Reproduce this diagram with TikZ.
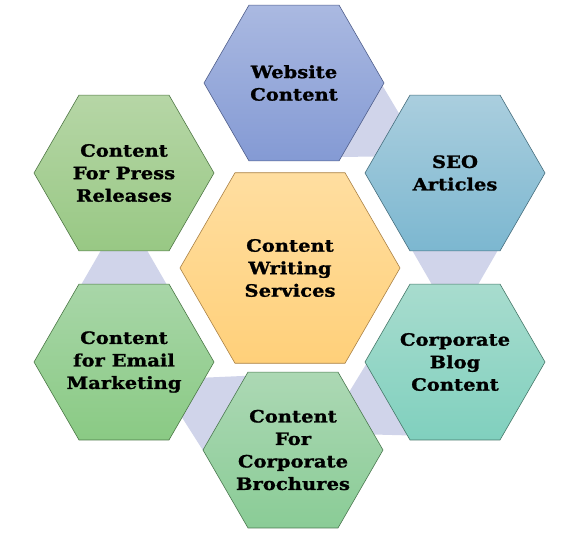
\documentclass[tikz,border=0pt]{standalone}
\usepackage{fontspec}
\setmainfont{DejaVu Serif}[FakeStretch=1.15, BoldFeatures={FakeBold=1.1}]
\usetikzlibrary{shapes.geometric,calc,backgrounds}
\definecolor{link}{RGB}{208,212,234}
\definecolor{webT}{RGB}{170,185,225}\definecolor{webB}{RGB}{132,154,212}\definecolor{webD}{RGB}{80,95,140}
\definecolor{seoT}{RGB}{170,206,222}\definecolor{seoB}{RGB}{124,183,208}\definecolor{seoD}{RGB}{70,110,125}
\definecolor{blgT}{RGB}{168,220,206}\definecolor{blgB}{RGB}{128,208,190}\definecolor{blgD}{RGB}{70,120,105}
\definecolor{brcT}{RGB}{172,216,180}\definecolor{brcB}{RGB}{138,204,150}\definecolor{brcD}{RGB}{75,120,80}
\definecolor{emlT}{RGB}{168,214,168}\definecolor{emlB}{RGB}{138,202,132}\definecolor{emlD}{RGB}{75,120,70}
\definecolor{prsT}{RGB}{182,214,166}\definecolor{prsB}{RGB}{152,200,132}\definecolor{prsD}{RGB}{80,120,70}
\definecolor{corT}{RGB}{255,222,160}\definecolor{corB}{RGB}{255,208,122}\definecolor{corD}{RGB}{170,130,70}
\tikzset{
  hexa/.style={regular polygon, regular polygon sides=6, minimum size=180pt, inner sep=0pt, outer sep=0pt,
    line width=0.6pt},
  hexlabel/.style={align=center, inner sep=0pt, text=black, font=\fontsize{17}{22.5}\selectfont\bfseries},
  linkband/.style={fill=link, draw=none}
}
\begin{document}
\begin{tikzpicture}[x=1pt,y=-1pt]
\useasboundingbox (0,0) rectangle (580,536);
\node[hexa, minimum size=220pt, draw=corD, top color=corT, bottom color=corB] (core) at (290,268) {};
\node[hexa, draw=webD, top color=webT, bottom color=webB] (web) at (294,83) {};
\node[hexa, draw=seoD, top color=seoT, bottom color=seoB] (seo) at (455,173) {};
\node[hexa, draw=blgD, top color=blgT, bottom color=blgB] (blog) at (455,362) {};
\node[hexa, draw=brcD, top color=brcT, bottom color=brcB] (broch) at (293,450) {};
\node[hexa, draw=emlD, top color=emlT, bottom color=emlB] (email) at (124,362) {};
\node[hexa, draw=prsD, top color=prsT, bottom color=prsB] (press) at (124,173) {};
\node[hexlabel] (coreT) at (core.center) {Content\\Writing\\Services};
\node[hexlabel] (webT) at (web.center) {Website\\Content};
\node[hexlabel] (seoT) at (seo.center) {SEO\\Articles};
\node[hexlabel] (blogT) at (blog.center) {Corporate\\Blog\\Content};
\node[hexlabel] (brochT) at (broch.center) {Content\\For\\Corporate\\Brochures};
\node[hexlabel] (emailT) at (email.center) {Content\\for Email\\Marketing};
\node[hexlabel] (pressT) at (press.center) {Content\\For Press\\Releases};
\begin{pgfonlayer}{background}
\fill[white] (0,0) rectangle (580,536);
\foreach \a/\b in {web/seo, seo/blog, blog/broch, broch/email, email/press}{
  \coordinate (m) at ($(\a)!0.5!(\b)$);
  \coordinate (tip) at ($(m)!57pt!(\b)$);
  \coordinate (q) at ($(m)!-50pt!(\b)$);
  \fill[linkband] (tip) -- ($(q)!61.8pt!90:(\b)$) -- ($(q)!61.8pt!-90:(\b)$) -- cycle;
}
\end{pgfonlayer}
\end{tikzpicture}
\end{document}
